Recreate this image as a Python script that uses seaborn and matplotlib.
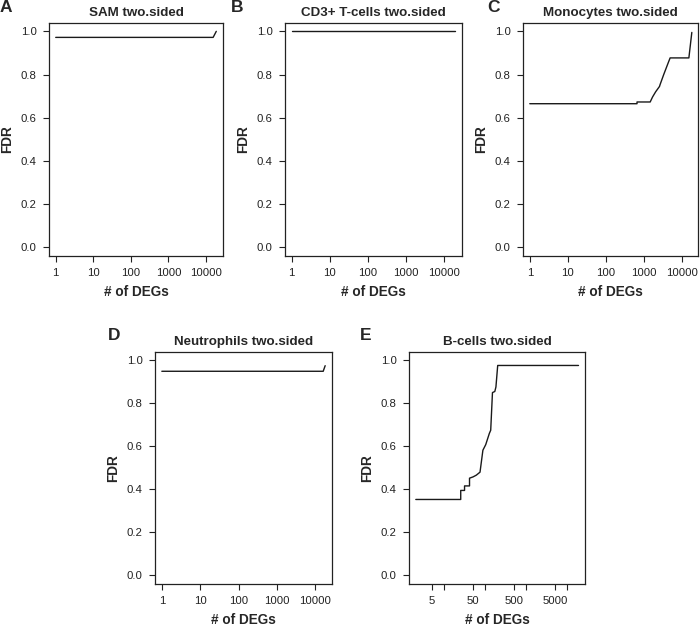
import matplotlib
matplotlib.use("Agg")
import matplotlib.pyplot as plt
import matplotlib.ticker as mticker
import seaborn as sns

sns.set_theme(style="ticks")
plt.rcParams['font.family'] = ['Liberation Sans', 'DejaVu Sans']

# values (x = # of DEGs, y = FDR)
titles = ["SAM two.sided", "CD3+ T-cells two.sided", "Monocytes two.sided",
          "Neutrophils two.sided", "B-cells two.sided"]
letters = ["A", "B", "C", "D", "E"]

sam_x = [1, 15500, 18800]
sam_y = [0.972, 0.972, 1.0]

cd3_x = [1, 19500]
cd3_y = [1.0, 1.0]

mono_x = [1, 650, 650, 1440, 1660, 2000, 2530, 2600, 3260, 4270, 4800, 14900, 17800]
mono_y = [0.665, 0.665, 0.673, 0.673, 0.696, 0.72, 0.745, 0.752, 0.80, 0.854, 0.877, 0.877, 0.995]

neut_x = [1, 16000, 18000]
neut_y = [0.949, 0.949, 0.975]

bcell_x = [2, 25, 25, 31, 31, 41, 41, 50, 60, 74, 87, 102, 125, 135, 149, 170, 181, 200, 18800]
bcell_y = [0.353, 0.353, 0.395, 0.395, 0.416, 0.416, 0.452, 0.458, 0.466, 0.48, 0.582, 0.608,
           0.66, 0.675, 0.85, 0.855, 0.876, 0.976, 0.976]

series = [(sam_x, sam_y), (cd3_x, cd3_y), (mono_x, mono_y), (neut_x, neut_y), (bcell_x, bcell_y)]

std_ticks = [1, 10, 100, 1000, 10000]
std_labels = ["1", "10", "100", "1000", "10000"]
e_ticks = [5, 10, 50, 100, 500, 1000, 5000, 10000]
e_labels = ["5", "", "50", "", "500", "", "5000", ""]

W, H = 700, 628
# panel boxes in pixels: left, top, right, bottom
boxes = [(49.3, 22.7, 222.7, 256), (285, 22.7, 461.7, 256), (523.3, 22.7, 698.3, 256),
         (155.3, 351.7, 331.7, 584), (409.3, 351.7, 585, 584)]
letter_pos = [(0, 8), (231, 8), (487, 8), (108, 335), (360, 335)]

fig = plt.figure(figsize=(7, 6.28), dpi=100)

for i, (x, y) in enumerate(series):
    l, t, r, b = boxes[i]
    ax = fig.add_axes([l / W, 1 - b / H, (r - l) / W, (b - t) / H])
    ax.set_xscale('log')
    sns.lineplot(x=x, y=y, ax=ax, estimator=None, sort=False, color='#1a1a1a', linewidth=1.0)
    ax.margins(x=0.04)
    ax.set_ylim(-0.04, 1.04)
    ax.set_yticks([0.0, 0.2, 0.4, 0.6, 0.8, 1.0])
    ax.yaxis.set_major_formatter(mticker.FormatStrFormatter('%.1f'))
    if i == 4:
        ax.set_xticks(e_ticks)
        ax.set_xticklabels(e_labels)
    else:
        ax.set_xticks(std_ticks)
        ax.set_xticklabels(std_labels)
    ax.xaxis.set_minor_locator(mticker.NullLocator())
    ax.tick_params(axis='both', which='major', length=4.5, width=0.8, pad=4.5,
                   labelsize=8.2, color='#222222', labelcolor='#222222')
    for s in ax.spines.values():
        s.set_color('#222222')
        s.set_linewidth(0.9)
    ax.set_title(titles[i], fontsize=9.6, fontweight='bold', pad=5)
    ax.set_xlabel("# of DEGs", fontsize=9.8, fontweight='bold', labelpad=5)
    ax.set_ylabel("FDR", fontsize=9.8, fontweight='bold', labelpad=5)
    lx, ly = letter_pos[i]
    fig.text(lx / W, 1 - ly / H, letters[i], fontsize=12.5, fontweight='bold',
             ha='left', va='center')

fig.savefig("out.png", dpi=100)
